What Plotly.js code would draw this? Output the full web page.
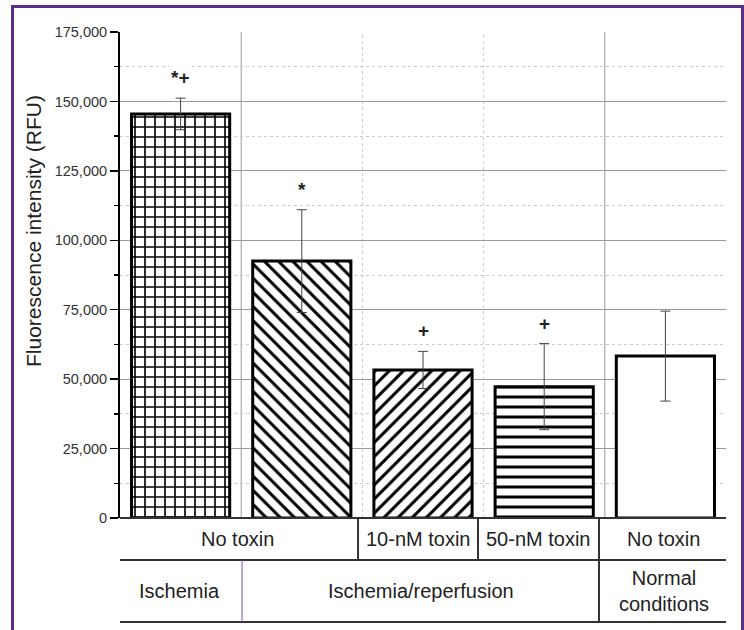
<!DOCTYPE html>
<html>
<head>
<meta charset="utf-8">
<script src="https://cdn.plot.ly/plotly-3.0.1.min.js"></script>
<style>
  html, body { margin: 0; padding: 0; background: #fff; }
  #wrap { position: relative; width: 744px; height: 630px; overflow: hidden; }
  #chart { position: absolute; left: 0; top: 0; width: 744px; height: 630px; }
  #frame { position: absolute; left: 11px; top: 5px; width: 727px; height: 640px;
           border-left: 3px solid #5b2d8e; border-top: 3px solid #5b2d8e; border-right: 3px solid #5b2d8e;
           pointer-events: none; box-sizing: content-box; }
</style>
</head>
<body>
<div id="wrap">
  <div id="chart"></div>
  <div id="frame"></div>
</div>
<script>
// ---- data ----
const categories = ['Ischemia / no toxin', 'I/R / no toxin', 'I/R / 10-nM toxin', 'I/R / 50-nM toxin', 'Normal / no toxin'];
const values = [145500, 92500, 53300, 47300, 58300];
const errors = [5700, 18500, 6700, 15500, 16200];
const patternShapes = ['+', '\\', '/', '-', ''];
const significance = ['*+', '*', '+', '+', ''];
const yTickVals = [0, 25000, 50000, 75000, 100000, 125000, 150000, 175000];
const row1Labels = ['No toxin', '10-nM toxin', '50-nM toxin', 'No toxin'];
const row2Labels = ['Ischemia', 'Ischemia/reperfusion', 'Normal<br>conditions'];
const yTitle = 'Fluorescence intensity (RFU)';

// ---- layout helpers (table geometry in category units) ----
const row1Bounds = [-0.525, 1.464, 2.454, 3.452, 4.517];
const row2Bounds = [-0.525, 0.507, 3.452, 4.517];
const tblTop = 0, row1Bottom = -0.0864, tblBottom = -0.214;
const lineCol = '#333';
const FONT = 'Liberation Sans, Arial, sans-serif';

const trace = {
  type: 'bar',
  x: categories,
  y: values,
  width: 0.81,
  marker: {
    color: 'white',
    line: { color: 'black', width: 3 },
    pattern: { shape: patternShapes, fgcolor: 'black', bgcolor: 'white', size: 10, solidity: 0.3, fillmode: 'replace' }
  },
  error_y: { type: 'data', array: errors, visible: true, color: '#444', thickness: 1, width: 5 },
  hoverinfo: 'skip'
};

const shapes = [];
// vertical grid separators
[[0.5, 'solid', '#9a9a9a'], [3.5, 'solid', '#9a9a9a'], [1.5, 'dot', '#c8c8c8'], [2.5, 'dot', '#c8c8c8']].forEach(([x, dash, c]) => {
  shapes.push({ type: 'line', xref: 'x', yref: 'paper', x0: x, x1: x, y0: 0, y1: 1, layer: 'below', line: { color: c, width: 1, dash: dash } });
});
// table
const tLeft = row1Bounds[0], tRight = row1Bounds[row1Bounds.length - 1];
[tblTop, row1Bottom, tblBottom].forEach(y => {
  shapes.push({ type: 'line', xref: 'x', yref: 'paper', x0: tLeft, x1: tRight, y0: y, y1: y, line: { color: lineCol, width: 2 } });
});
row1Bounds.forEach(x => {
  shapes.push({ type: 'line', xref: 'x', yref: 'paper', x0: x, x1: x, y0: tblTop, y1: row1Bottom, line: { color: lineCol, width: 2 } });
});
row2Bounds.forEach((x, i) => {
  const purple = (i === 1);
  shapes.push({ type: 'line', xref: 'x', yref: 'paper', x0: x, x1: x, y0: row1Bottom, y1: tblBottom,
    line: { color: purple ? '#7a55b0' : lineCol, width: purple ? 1 : 2 } });
});

const annotations = [];
row1Labels.forEach((t, i) => {
  annotations.push({ xref: 'x', yref: 'paper', x: (row1Bounds[i] + row1Bounds[i + 1]) / 2, y: (tblTop + row1Bottom) / 2,
    text: t, showarrow: false, font: { family: FONT, size: 20, color: '#222' }, xanchor: 'center', yanchor: 'middle' });
});
row2Labels.forEach((t, i) => {
  annotations.push({ xref: 'x', yref: 'paper', x: (row2Bounds[i] + row2Bounds[i + 1]) / 2, y: (row1Bottom + tblBottom) / 2,
    text: t, showarrow: false, font: { family: FONT, size: 20, color: '#222' }, xanchor: 'center', yanchor: 'middle' });
});
significance.forEach((t, i) => {
  if (!t) return;
  annotations.push({ xref: 'x', yref: 'y', x: categories[i], y: values[i] + errors[i], yshift: 8,
    text: '<b>' + t + '</b>', showarrow: false, font: { family: FONT, size: 19, color: '#222' }, bgcolor: 'white',
    xanchor: 'center', yanchor: 'bottom' });
});
annotations.push({ xref: 'paper', yref: 'paper', x: -0.1436, y: 0.5905, text: yTitle, textangle: -90, showarrow: false,
  font: { family: FONT, size: 21, color: '#222' }, xanchor: 'center', yanchor: 'middle' });

const layout = {
  width: 744, height: 630,
  margin: { l: 120, r: 18, t: 32, b: 112, pad: 0 },
  paper_bgcolor: 'rgba(0,0,0,0)',
  plot_bgcolor: 'white',
  font: { family: FONT, color: '#222' },
  showlegend: false,
  xaxis: { type: 'category', range: [-0.5, 4.5], showticklabels: false, showgrid: false, zeroline: false, showline: false, ticks: '' },
  yaxis: {
    range: [0, 175000], tickvals: yTickVals, tickformat: ',d', ticks: 'outside', ticklen: 8, tickwidth: 1.5, tickcolor: 'black',
    showline: true, linecolor: 'black', linewidth: 2, zeroline: false,
    showgrid: true, gridcolor: '#9a9a9a', gridwidth: 1,
    tickfont: { family: FONT, size: 14.5, color: '#333' },
    minor: { dtick: 12500, tick0: 0, ticks: 'outside', ticklen: 4, tickcolor: 'black', tickwidth: 1.5, showgrid: true, gridcolor: '#cccccc', griddash: 'dot', gridwidth: 1 }
  },
  shapes: shapes,
  annotations: annotations
};

Plotly.newPlot('chart', [trace], layout, { displayModeBar: false, staticPlot: true });
</script>
</body>
</html>
